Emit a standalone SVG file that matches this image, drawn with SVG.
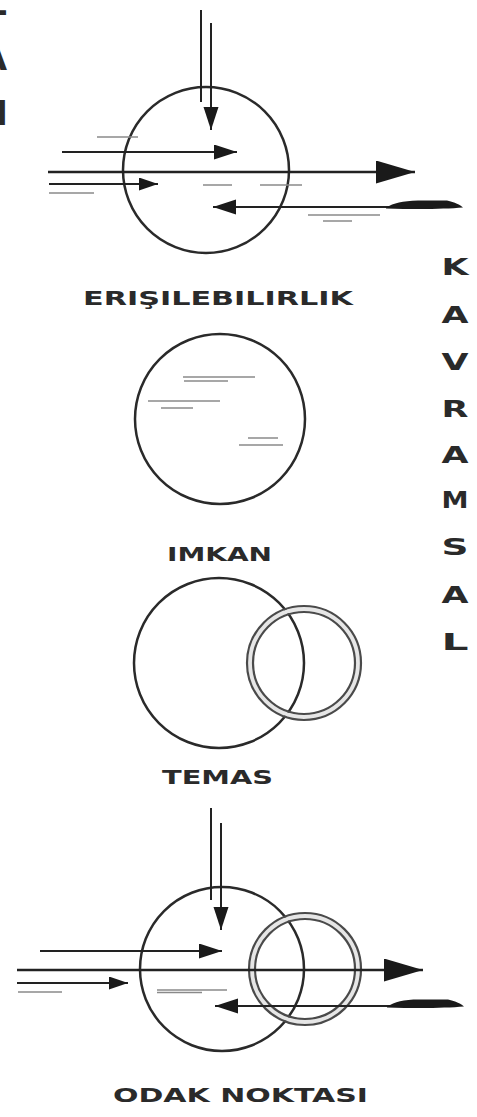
<svg xmlns="http://www.w3.org/2000/svg" width="477" height="1117" viewBox="0 0 477 1117">
<style>
  .circ { fill: none; stroke: #2a2a2a; stroke-width: 2.5; }
  .ring { fill: none; stroke: #4a4a4a; stroke-width: 2.2; }
  .band { fill: none; stroke: #e6e6e6; stroke-width: 4; }
  .ln { fill: none; stroke: #222; stroke-width: 2; }
  .lnb { fill: none; stroke: #222; stroke-width: 2.6; }
  .gr { fill: none; stroke: #8a8a8a; stroke-width: 1.5; }
  .tail { fill: #1a1a1a; }
  .lbl { font-family: "DejaVu Sans", "Liberation Sans", sans-serif; font-weight: bold; fill: #2a2a2a; }
</style>
<defs>
  <marker id="ahS" markerUnits="userSpaceOnUse" markerWidth="24" markerHeight="16" refX="23" refY="7.5" orient="auto">
    <path d="M0,0 L23,7.5 L0,15 Z" fill="#1a1a1a"/>
  </marker>
  <marker id="ahM" markerUnits="userSpaceOnUse" markerWidth="20" markerHeight="14" refX="19" refY="6.5" orient="auto">
    <path d="M0,0 L19,6.5 L0,13 Z" fill="#1a1a1a"/>
  </marker>
  <marker id="ahL" markerUnits="userSpaceOnUse" markerWidth="40" markerHeight="24" refX="39" refY="11.5" orient="auto">
    <path d="M0,0 L39,11.5 L0,23 Z" fill="#1a1a1a"/>
  </marker>
</defs>
<rect width="477" height="1117" fill="#ffffff"/>

<g id="left-fragment" class="lbl" font-size="34" text-anchor="end">
  <text x="7" y="15">L</text>
  <text x="7" y="70">A</text>
  <text x="8" y="125">N</text>
</g>

<g id="erisilebilirlik">
  <circle class="circ" cx="206" cy="170" r="83"/>
  <line class="gr" x1="97" y1="137" x2="138" y2="137"/>
  <line class="gr" x1="49" y1="193" x2="94" y2="193"/>
  <line class="gr" x1="203" y1="185" x2="232" y2="185"/>
  <line class="gr" x1="260" y1="185" x2="302" y2="185"/>
  <line class="gr" x1="308" y1="215" x2="380" y2="215"/>
  <line class="gr" x1="323" y1="221" x2="352" y2="221"/>
  <text class="lbl" x="83" y="305" font-size="19" textLength="270" lengthAdjust="spacingAndGlyphs">ERIŞILEBILIRLIK</text>
</g>

<g id="imkan">
  <circle class="circ" cx="220" cy="419" r="85"/>
  <line class="gr" x1="183" y1="377" x2="255" y2="377"/>
  <line class="gr" x1="184" y1="381" x2="228" y2="381"/>
  <line class="gr" x1="148" y1="401" x2="220" y2="401"/>
  <line class="gr" x1="161" y1="408" x2="193" y2="408"/>
  <line class="gr" x1="248" y1="438" x2="278" y2="438"/>
  <line class="gr" x1="239" y1="445" x2="283" y2="445"/>
  <text class="lbl" x="167" y="561" font-size="19" textLength="105" lengthAdjust="spacingAndGlyphs">IMKAN</text>
</g>

<g id="temas">
  <circle class="circ" cx="219" cy="663" r="85"/>
  <circle class="band" cx="304" cy="663" r="54"/>
  <circle class="ring" cx="304" cy="663" r="57"/>
  <circle class="ring" cx="304" cy="663" r="51"/>
  <text class="lbl" x="162" y="784" font-size="19" textLength="111" lengthAdjust="spacingAndGlyphs">TEMAS</text>
</g>

<g id="odak-noktasi">
  <circle class="circ" cx="222" cy="969" r="82"/>
  <circle class="band" cx="305" cy="969" r="53"/>
  <circle class="ring" cx="305" cy="969" r="56"/>
  <circle class="ring" cx="305" cy="969" r="50"/>
  <line class="gr" x1="18" y1="992" x2="62" y2="992"/>
  <line class="gr" x1="157" y1="990" x2="227" y2="990"/>
  <line class="gr" x1="157" y1="992.5" x2="202" y2="992.5" stroke-width="2"/>
  <text class="lbl" x="113" y="1102" font-size="19" textLength="255" lengthAdjust="spacingAndGlyphs">ODAK NOKTASI</text>
</g>

<g id="kavramsal" class="lbl" font-size="23" text-anchor="middle">
  <text x="455" y="275" textLength="27" lengthAdjust="spacingAndGlyphs">K</text>
  <text x="455" y="323" textLength="27" lengthAdjust="spacingAndGlyphs">A</text>
  <text x="455" y="370" textLength="27" lengthAdjust="spacingAndGlyphs">V</text>
  <text x="455" y="417" textLength="27" lengthAdjust="spacingAndGlyphs">R</text>
  <text x="455" y="463" textLength="27" lengthAdjust="spacingAndGlyphs">A</text>
  <text x="455" y="508" textLength="27" lengthAdjust="spacingAndGlyphs">M</text>
  <text x="455" y="555" textLength="27" lengthAdjust="spacingAndGlyphs">S</text>
  <text x="455" y="603" textLength="27" lengthAdjust="spacingAndGlyphs">A</text>
  <text x="455" y="650" textLength="27" lengthAdjust="spacingAndGlyphs">L</text>
</g>

<g id="connectors">
  <!-- top diagram -->
  <line class="ln" x1="201" y1="10" x2="201" y2="102"/>
  <line class="ln" x1="211" y1="23" x2="211" y2="130" marker-end="url(#ahS)"/>
  <line class="ln" x1="62" y1="152" x2="237" y2="152" marker-end="url(#ahS)"/>
  <line class="lnb" x1="48" y1="172" x2="415" y2="172" marker-end="url(#ahL)"/>
  <line class="ln" x1="49" y1="184" x2="158" y2="184" marker-end="url(#ahM)"/>
  <line class="ln" x1="390" y1="207" x2="213" y2="207" marker-end="url(#ahS)"/>
  <path class="tail" d="M386,207.5 C394,203 402,201 418,200.5 L447,200.5 C455,202 460,205 463,207.5 C445,209 420,209.5 386,208.5 Z"/>
  <!-- bottom diagram -->
  <line class="ln" x1="211" y1="808" x2="211" y2="900"/>
  <line class="ln" x1="221" y1="823" x2="221" y2="930" marker-end="url(#ahS)"/>
  <line class="ln" x1="40" y1="951" x2="222" y2="951" marker-end="url(#ahS)"/>
  <line class="lnb" x1="17" y1="970" x2="423" y2="970" marker-end="url(#ahL)"/>
  <line class="ln" x1="17" y1="983" x2="128" y2="983" marker-end="url(#ahM)"/>
  <line class="ln" x1="390" y1="1006" x2="215" y2="1006" marker-end="url(#ahS)"/>
  <path class="tail" d="M387,1006.5 C395,1002 403,999.5 419,999.5 L448,999.5 C456,1001 461,1004 464,1006.5 C446,1008 421,1008.5 387,1007.5 Z"/>
</g>
</svg>
